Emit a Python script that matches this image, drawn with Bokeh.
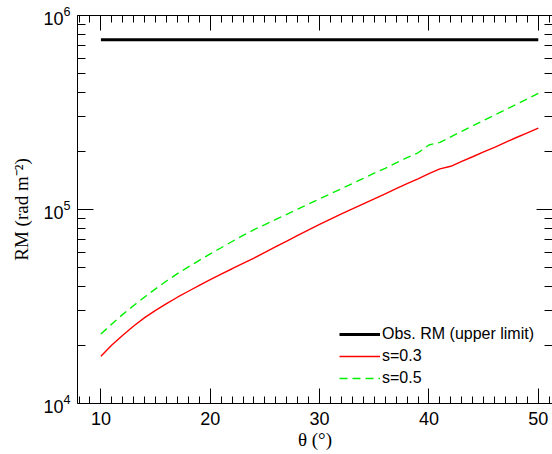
from bokeh.plotting import figure
from bokeh.models import Range1d, FixedTicker, LinearAxis, LogAxis
from bokeh.embed import file_html
from bokeh.resources import INLINE

# ---------------- data ----------------
theta = list(range(10, 51))
rm_s03 = [1.75e4, 2.0e4, 2.25e4, 2.51e4, 2.77e4, 3.02e4, 3.27e4, 3.53e4, 3.79e4, 4.06e4,
          4.35e4, 4.65e4, 4.95e4, 5.28e4, 5.62e4, 6.01e4, 6.43e4, 6.87e4, 7.35e4, 7.85e4,
          8.38e4, 8.93e4, 9.49e4, 1.007e5, 1.07e5, 1.135e5, 1.205e5, 1.28e5, 1.36e5, 1.44e5,
          1.53e5, 1.62e5, 1.67e5, 1.77e5, 1.87e5, 1.98e5, 2.09e5, 2.22e5, 2.35e5, 2.48e5,
          2.63e5]
rm_s05 = [2.28e4, 2.57e4, 2.88e4, 3.2e4, 3.54e4, 3.9e4, 4.28e4, 4.67e4, 5.06e4, 5.47e4,
          5.9e4, 6.35e4, 6.84e4, 7.35e4, 7.87e4, 8.36e4, 8.89e4, 9.44e4, 1.005e5, 1.067e5,
          1.135e5, 1.205e5, 1.28e5, 1.36e5, 1.445e5, 1.54e5, 1.63e5, 1.74e5, 1.85e5, 1.96e5,
          2.15e5, 2.22e5, 2.37e5, 2.53e5, 2.7e5, 2.88e5, 3.07e5, 3.27e5, 3.49e5, 3.72e5,
          3.97e5]
theta_obs = [10, 50]
rm_obs = [7.5e5, 7.5e5]

x_ticks = [10, 20, 30, 40, 50]
y_ticks = [1e4, 1e5, 1e6]
labels = ["Obs. RM (upper limit)", "s=0.3", "s=0.5"]
x_title = "\u03b8 (\u00b0)"
y_title = "RM (rad m\u207b\u00b2)"

# ---------------- figure ----------------
X0, X1 = 7.86, 51.3
FL, FR, FT, FB = 77, 552, 15, 403   # frame edges in page pixels
p = figure(width=552, height=454, output_backend="svg", toolbar_location=None,
           x_range=Range1d(X0, X1), y_range=Range1d(1e4, 1e6), y_axis_type="log",
           min_border_left=FL, min_border_right=0, min_border_top=FT,
           min_border_bottom=454 - FB)
p.outline_line_color = None
p.grid.visible = False
p.background_fill_color = "white"
p.border_fill_color = "white"

p.line(theta_obs, rm_obs, line_color="black", line_width=3, legend_label=labels[0])
p.line(theta, rm_s03, line_color="#ff0000", line_width=1.4, legend_label=labels[1])
p.line(theta, rm_s05, line_color="#00f000", line_width=1.4, line_dash="8 5",
       legend_label=labels[2])

xt = FixedTicker(ticks=x_ticks, minor_ticks=list(range(8, 52)))
yminor = [m * 10 ** e for e in (4, 5) for m in range(2, 10)]
yt = FixedTicker(ticks=y_ticks, minor_ticks=yminor)

def style(ax, tick_font="18px", standoff=7, maj=15, mnr=7):
    ax.axis_line_color = "black"
    ax.axis_line_width = 1
    ax.major_tick_line_color = "black"
    ax.minor_tick_line_color = "black"
    ax.major_tick_in = maj
    ax.major_tick_out = 0
    ax.minor_tick_in = mnr
    ax.minor_tick_out = 0
    ax.major_label_text_font = "Liberation Sans"
    ax.major_label_text_font_size = tick_font
    ax.major_label_text_color = "black"
    ax.major_label_standoff = standoff

xa = p.xaxis[0]
xa.ticker = xt
style(xa, standoff=8, maj=15, mnr=7)
xa.axis_label = x_title
xa.axis_label_standoff = 1
ya = p.yaxis[0]
ya.ticker = yt
style(ya, standoff=7, maj=16, mnr=8)
ya.axis_label = y_title
ya.axis_label_standoff = 8
for ax in (xa, ya):
    ax.axis_label_text_font = "Liberation Serif"
    ax.axis_label_text_font_style = "normal"
    ax.axis_label_text_font_size = "19px"
    ax.axis_label_text_color = "black"

top = LinearAxis(ticker=xt)
style(top, tick_font="0px", standoff=0, maj=15, mnr=7)
top.major_label_text_alpha = 0
p.add_layout(top, "above")
right = LogAxis(ticker=yt)
style(right, tick_font="0px", standoff=0, maj=16, mnr=8)
right.major_label_text_alpha = 0
p.add_layout(right, "right")

# ---------------- legend ----------------
lg = p.legend[0]
lg.location = (262, 15)
lg.padding = 0
lg.margin = 0
lg.spacing = 2
lg.glyph_width = 41
lg.glyph_height = 20
lg.label_height = 20
lg.label_standoff = 2
lg.border_line_color = None
lg.background_fill_alpha = 0
lg.label_text_font = "Liberation Sans"
lg.label_text_font_size = "16px"
lg.label_text_color = "black"

open("out.html", "w").write(file_html(p, INLINE))
